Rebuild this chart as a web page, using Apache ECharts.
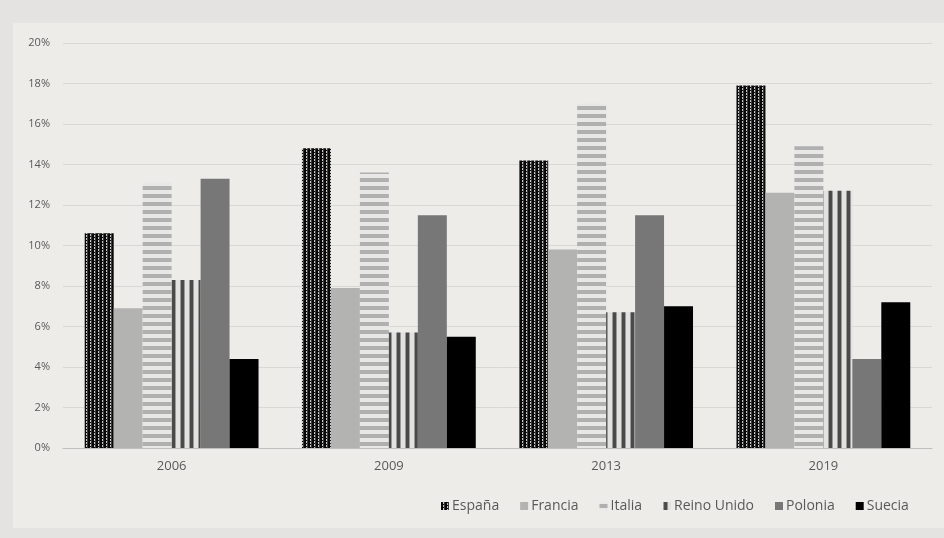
<!DOCTYPE html>
<html>
<head>
<meta charset="utf-8">
<script src="https://cdn.jsdelivr.net/npm/echarts@6/dist/echarts.min.js"></script>
<style>
html,body{margin:0;padding:0;background:#e4e3e1;}
#main{width:944px;height:538px;}
</style>
</head>
<body>
<div id="main"></div>
<script>
// datos
var years = ['2006', '2009', '2013', '2019'];
var countries = ['España', 'Francia', 'Italia', 'Reino Unido', 'Polonia', 'Suecia'];
var espana = [10.6, 14.8, 14.2, 17.9];
var francia = [6.9, 7.9, 9.8, 12.6];
var italia = [13.1, 13.6, 17.0, 14.9];
var reinoUnido = [8.3, 5.7, 6.7, 12.7];
var polonia = [13.3, 11.5, 11.5, 4.4];
var suecia = [4.4, 5.5, 7.0, 7.2];

// tramas
function makePattern(w, h, draw){
    var c = document.createElement('canvas');
    c.width = w; c.height = h;
    draw(c.getContext('2d'));
    return {image: c, repeat: 'repeat'};
}
var patEspana = makePattern(8, 6, function(ctx){
    ctx.fillStyle = '#080808'; ctx.fillRect(0, 0, 8, 6);
    ctx.fillStyle = '#c8c8c8';
    ctx.fillRect(2, 0, 1, 2);
    ctx.fillRect(2, 3, 1, 2);
    ctx.fillRect(6, 1, 1, 2);
    ctx.fillRect(6, 4, 1, 2);
    ctx.fillStyle = '#3a3a3a';
    ctx.fillRect(3, 0, 1, 6);
    ctx.fillRect(7, 0, 1, 6);
});
var patItalia = makePattern(8, 8, function(ctx){
    ctx.fillStyle = '#e8e8e6'; ctx.fillRect(0, 0, 8, 8);
    ctx.fillStyle = '#b0b0b0'; ctx.fillRect(0, 2, 8, 4);
});
var patReino = makePattern(9, 8, function(ctx){
    ctx.fillStyle = '#e2e2e0'; ctx.fillRect(0, 0, 9, 8);
    ctx.fillStyle = '#9a9a9a'; ctx.fillRect(0, 0, 1, 8);
    ctx.fillStyle = '#4a4a4a'; ctx.fillRect(1, 0, 3, 8);
    ctx.fillStyle = '#9a9a9a'; ctx.fillRect(4, 0, 1, 8);
});

var colors = [patEspana, '#b3b3b1', patItalia, patReino, '#777777', '#000000'];
var values = [espana, francia, italia, reinoUnido, polonia, suecia];

var series = [];
for (var i = 0; i < countries.length; i++) {
    series.push({
        name: countries[i],
        type: 'bar',
        barGap: 0,
        barCategoryGap: '20%',
        itemStyle: {color: colors[i]},
        data: values[i]
    });
}

var myChart = echarts.init(document.getElementById('main'));
var option = {
    backgroundColor: '#e4e3e1',
    animation: false,
    graphic: [{
        type: 'rect', z: -10, silent: true,
        shape: {x: 13, y: 23, width: 931, height: 505},
        style: {fill: '#edece9'}
    }],
    grid: {left: 63, right: 12, top: 43, bottom: 90},
    legend: {
        data: countries,
        left: 436,
        top: 494,
        itemWidth: 8,
        itemHeight: 8,
        itemGap: 21,
        icon: 'rect',
        textStyle: {color: '#595959', fontSize: 14, fontFamily: 'Open Sans', padding: [0, 0, 0, -2]}
    },
    xAxis: {
        type: 'category',
        data: years,
        axisTick: {show: false},
        axisLine: {lineStyle: {color: '#bfbfbf'}},
        axisLabel: {color: '#595959', fontSize: 13, fontFamily: 'Open Sans', margin: 12}
    },
    yAxis: {
        type: 'value',
        min: 0,
        max: 20,
        interval: 2,
        axisLine: {show: false},
        axisTick: {show: false},
        splitLine: {lineStyle: {color: '#d8d8d6'}},
        axisLabel: {
            color: '#595959', fontSize: 11, fontFamily: 'Open Sans', margin: 13,
            formatter: function(v){ return v + '%'; }
        }
    },
    series: series
};
myChart.setOption(option);
</script>
</body>
</html>
